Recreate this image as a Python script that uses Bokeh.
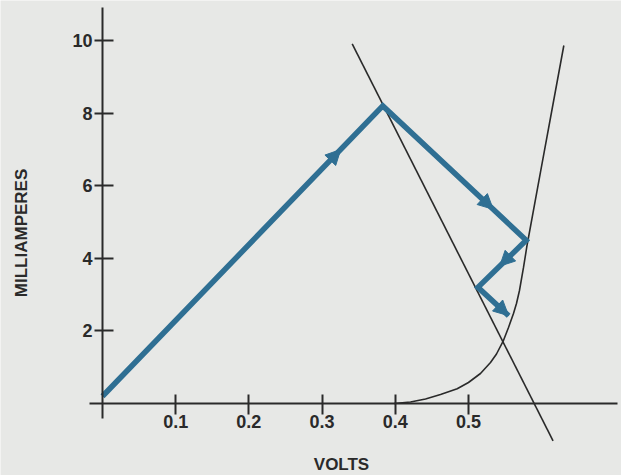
from math import pi
from bokeh.plotting import figure
from bokeh.models import Range1d, FixedTicker, Label, Arrow, NormalHead
from bokeh.embed import file_html
from bokeh.resources import INLINE

# ---- data (volts, milliamperes) ----
x_ticks = [0.1, 0.2, 0.3, 0.4, 0.5]
y_ticks = [2, 4, 6, 8, 10]

# diode characteristic curve
curve_v = [0.3985, 0.4209, 0.4414, 0.4619, 0.4847, 0.5001, 0.5165, 0.5302, 0.5384,
           0.5475, 0.5548, 0.5616, 0.5657, 0.5698, 0.5753, 0.5801, 0.5985, 0.6149, 0.6304]
curve_ma = [0.000, 0.041, 0.124, 0.248, 0.405, 0.579, 0.827, 1.129, 1.364,
            1.716, 2.094, 2.480, 2.756, 3.114, 3.748, 4.354, 6.374, 8.170, 9.865]

# load line end points
load_v = [0.3412, 0.6157]
load_ma = [9.91, -1.03]

# blue trajectory
path_v = [0.0, 0.383, 0.579, 0.513, 0.555]
path_ma = [0.2, 8.2, 4.5, 3.2, 2.42]
arrow_frac = [0.85, 0.77, 0.55, 1.0]

BG = "#e7e8e6"
INK = "#2a2a2a"
BLUE = "#2f6f93"
FONT = "Liberation Sans"

p = figure(width=621, height=475,
           x_range=Range1d(-0.13938, 0.70921), y_range=Range1d(-1.984, 11.105),
           output_backend="svg", toolbar_location=None, title=None, min_border=0)
p.background_fill_color = BG
p.border_fill_color = BG
p.outline_line_color = None
p.grid.visible = False

xa = p.xaxis[0]
ya = p.yaxis[0]
xa.fixed_location = 0
ya.fixed_location = 0
xa.bounds = (-0.0183, 0.7037)
ya.bounds = (-0.413, 10.92)
xa.ticker = FixedTicker(ticks=x_ticks)
ya.ticker = FixedTicker(ticks=y_ticks)
for ax in (xa, ya):
    ax.axis_line_width = 2
    ax.axis_line_color = INK
    ax.major_tick_line_width = 2
    ax.major_tick_line_color = INK
    ax.minor_tick_line_color = None
    ax.major_label_text_font = FONT
    ax.major_label_text_font_style = "bold"
    ax.major_label_text_font_size = "18px"
    ax.major_label_text_color = INK
xa.major_tick_in = 9
xa.major_tick_out = 11
xa.major_label_standoff = 0
ya.major_tick_in = 11
ya.major_tick_out = 8
ya.major_label_standoff = 2

# characteristic curve and load line
p.line(curve_v, curve_ma, line_color=INK, line_width=1.6)
p.line(load_v, load_ma, line_color=INK, line_width=1.6)

# blue path
p.line(path_v, path_ma, line_color=BLUE, line_width=5.5, line_join="miter")
for i, f in enumerate(arrow_frac):
    x0, y0 = path_v[i], path_ma[i]
    x1, y1 = path_v[i + 1], path_ma[i + 1]
    xe = x0 + f * (x1 - x0)
    ye = y0 + f * (y1 - y0)
    p.add_layout(Arrow(x_start=x0, y_start=y0, x_end=xe, y_end=ye, line_color=None,
                       end=NormalHead(size=15, fill_color=BLUE, line_color=BLUE, line_width=1)))

p.add_layout(Label(x=-0.111, y=4.70, text="MILLIAMPERES", angle=pi / 2,
                   text_align="center", text_baseline="middle",
                   text_font=FONT, text_font_style="bold", text_font_size="17px",
                   text_color=INK))
p.add_layout(Label(x=0.3266, y=-1.68, text="VOLTS",
                   text_align="center", text_baseline="middle",
                   text_font=FONT, text_font_style="bold", text_font_size="17px",
                   text_color=INK))

open("out.html", "w").write(file_html(p, INLINE))
